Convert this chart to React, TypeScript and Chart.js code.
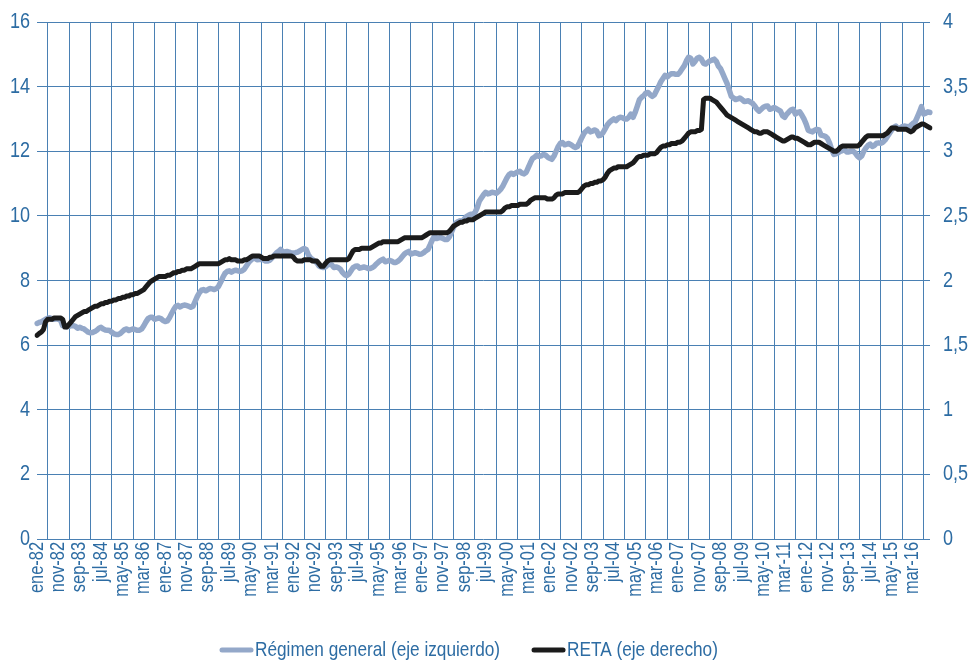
import React, { useEffect, useRef } from "react";
import { Chart, registerables } from "chart.js";

Chart.register(...registerables);

const monthNames = ["ene", "feb", "mar", "abr", "may", "jun", "jul", "ago", "sep", "oct", "nov", "dic"];
const firstYear = 1982;
const monthCount = 419; // ene-82 .. nov-16

// Régimen general (millones, eje izquierdo)
const regimenGeneral = [
  6.67, 6.70, 6.72, 6.76, 6.80, 6.83, 6.85, 6.80, 6.80, 6.82, 6.80, 6.78,
  6.60, 6.58, 6.57, 6.58, 6.60, 6.60, 6.58, 6.52, 6.55, 6.52, 6.50, 6.45,
  6.40, 6.38, 6.39, 6.42, 6.46, 6.52, 6.55, 6.50, 6.47, 6.46, 6.45, 6.40,
  6.35, 6.33, 6.33, 6.36, 6.42, 6.48, 6.50, 6.45, 6.48, 6.50, 6.48, 6.46,
  6.46, 6.50, 6.60, 6.72, 6.82, 6.86, 6.86, 6.80, 6.82, 6.84, 6.82, 6.76,
  6.73, 6.75, 6.85, 6.98, 7.10, 7.20, 7.23, 7.18, 7.22, 7.24, 7.23, 7.20,
  7.17, 7.20, 7.35, 7.50, 7.62, 7.70, 7.72, 7.68, 7.72, 7.75, 7.74, 7.72,
  7.75, 7.82, 7.95, 8.10, 8.22, 8.28, 8.30, 8.26, 8.30, 8.32, 8.30, 8.28,
  8.30, 8.35, 8.45, 8.55, 8.62, 8.68, 8.70, 8.64, 8.65, 8.66, 8.64, 8.60,
  8.60, 8.63, 8.70, 8.78, 8.85, 8.90, 8.96, 8.90, 8.88, 8.90, 8.88, 8.85,
  8.85, 8.86, 8.88, 8.92, 8.96, 8.99, 8.96, 8.80, 8.70, 8.65, 8.60, 8.55,
  8.45, 8.42, 8.40, 8.42, 8.48, 8.50, 8.48, 8.40, 8.42, 8.40, 8.35, 8.25,
  8.18, 8.15, 8.20, 8.30, 8.40, 8.44, 8.45, 8.38, 8.40, 8.42, 8.40, 8.37,
  8.37, 8.40, 8.45, 8.52, 8.58, 8.63, 8.66, 8.58, 8.60, 8.62, 8.60, 8.56,
  8.56, 8.60, 8.66, 8.74, 8.82, 8.87, 8.90, 8.82, 8.84, 8.86, 8.84, 8.81,
  8.82, 8.86, 8.92, 8.96, 9.10, 9.25, 9.37, 9.30, 9.32, 9.33, 9.30, 9.27,
  9.27, 9.35, 9.50, 9.65, 9.78, 9.82, 9.85, 9.82, 9.90, 9.98, 10.02, 10.05,
  10.05, 10.10, 10.25, 10.45, 10.55, 10.65, 10.73, 10.68, 10.70, 10.73, 10.72, 10.70,
  10.75, 10.82, 10.92, 11.05, 11.18, 11.28, 11.32, 11.28, 11.32, 11.36, 11.38, 11.32,
  11.30, 11.35, 11.50, 11.65, 11.78, 11.82, 11.88, 11.84, 11.86, 11.90, 11.88, 11.82,
  11.78, 11.75, 11.85, 12.00, 12.15, 12.25, 12.27, 12.20, 12.22, 12.24, 12.20, 12.15,
  12.12, 12.15, 12.28, 12.42, 12.55, 12.62, 12.68, 12.60, 12.62, 12.66, 12.62, 12.48,
  12.50, 12.58, 12.70, 12.82, 12.90, 12.95, 13.00, 12.95, 13.02, 13.05, 13.04, 13.00,
  13.00, 13.05, 13.15, 13.05, 13.20, 13.40, 13.60, 13.67, 13.72, 13.80, 13.82, 13.75,
  13.70, 13.75, 13.88, 14.01, 14.15, 14.25, 14.35, 14.30, 14.36, 14.40, 14.40, 14.38,
  14.38, 14.45, 14.55, 14.65, 14.80, 14.91, 14.88, 14.70, 14.78, 14.88, 14.91, 14.85,
  14.72, 14.70, 14.75, 14.80, 14.82, 14.85, 14.78, 14.63, 14.55, 14.40, 14.25, 14.10,
  13.90, 13.70, 13.65, 13.60, 13.62, 13.65, 13.60, 13.54, 13.55, 13.56, 13.52, 13.48,
  13.40, 13.30, 13.24, 13.30, 13.36, 13.39, 13.40, 13.30, 13.32, 13.35, 13.32, 13.28,
  13.24, 13.10, 13.05, 13.15, 13.22, 13.28, 13.30, 13.15, 13.20, 13.22, 13.12, 13.00,
  12.85, 12.65, 12.62, 12.60, 12.65, 12.68, 12.66, 12.50, 12.48, 12.46, 12.40, 12.25,
  12.05, 11.90, 11.92, 11.95, 12.00, 12.02, 12.05, 11.98, 11.98, 12.00, 12.00, 11.95,
  11.85, 11.80, 11.85, 12.00, 12.10, 12.18, 12.22, 12.15, 12.18, 12.25, 12.26, 12.25,
  12.28, 12.35, 12.45, 12.55, 12.65, 12.74, 12.78, 12.70, 12.72, 12.76, 12.78, 12.77,
  12.75, 12.80, 12.86, 12.90, 13.05, 13.20, 13.38, 13.15, 13.18, 13.22, 13.20,
];

// RETA (millones, eje derecho)
const reta = [
  1.575, 1.59, 1.60, 1.62, 1.68, 1.70, 1.70, 1.70, 1.71, 1.71, 1.71, 1.71,
  1.70, 1.64, 1.64, 1.66, 1.68, 1.70, 1.72, 1.73, 1.74, 1.75, 1.76, 1.76,
  1.77, 1.78, 1.79, 1.80, 1.80, 1.81, 1.82, 1.82, 1.83, 1.83, 1.84, 1.84,
  1.85, 1.85, 1.86, 1.86, 1.87, 1.87, 1.88, 1.88, 1.89, 1.89, 1.90, 1.90,
  1.91, 1.92, 1.93, 1.95, 1.97, 1.99, 2.00, 2.01, 2.02, 2.03, 2.03, 2.03,
  2.03, 2.04, 2.04, 2.05, 2.06, 2.06, 2.07, 2.07, 2.08, 2.08, 2.09, 2.09,
  2.09, 2.10, 2.11, 2.12, 2.13, 2.13, 2.13, 2.13, 2.13, 2.13, 2.13, 2.13,
  2.13, 2.13, 2.14, 2.15, 2.16, 2.16, 2.17, 2.16, 2.16, 2.16, 2.15, 2.15,
  2.15, 2.16, 2.16, 2.17, 2.18, 2.19, 2.19, 2.19, 2.19, 2.18, 2.17, 2.17,
  2.17, 2.18, 2.18, 2.19, 2.19, 2.19, 2.19, 2.19, 2.19, 2.19, 2.19, 2.19,
  2.18, 2.16, 2.15, 2.15, 2.15, 2.16, 2.16, 2.16, 2.16, 2.15, 2.15, 2.15,
  2.13, 2.11, 2.11, 2.13, 2.15, 2.16, 2.16, 2.16, 2.16, 2.16, 2.16, 2.16,
  2.16, 2.16, 2.17, 2.20, 2.23, 2.24, 2.24, 2.24, 2.25, 2.25, 2.25, 2.25,
  2.25, 2.26, 2.27, 2.28, 2.29, 2.29, 2.30, 2.30, 2.30, 2.30, 2.30, 2.30,
  2.30, 2.30, 2.31, 2.32, 2.33, 2.33, 2.33, 2.33, 2.33, 2.33, 2.33, 2.33,
  2.33, 2.34, 2.35, 2.36, 2.37, 2.37, 2.37, 2.37, 2.37, 2.37, 2.37, 2.37,
  2.37, 2.38, 2.40, 2.42, 2.43, 2.44, 2.45, 2.45, 2.46, 2.46, 2.47, 2.47,
  2.47, 2.48, 2.49, 2.50, 2.51, 2.52, 2.53, 2.53, 2.53, 2.53, 2.53, 2.53,
  2.53, 2.53, 2.54, 2.56, 2.57, 2.57, 2.58, 2.58, 2.58, 2.58, 2.59, 2.59,
  2.59, 2.59, 2.60, 2.62, 2.63, 2.64, 2.64, 2.64, 2.64, 2.64, 2.64, 2.63,
  2.63, 2.63, 2.64, 2.66, 2.67, 2.67, 2.67, 2.68, 2.68, 2.68, 2.68, 2.68,
  2.68, 2.68, 2.69, 2.71, 2.73, 2.74, 2.74, 2.75, 2.75, 2.76, 2.76, 2.77,
  2.77, 2.78, 2.80, 2.83, 2.85, 2.86, 2.87, 2.87, 2.88, 2.88, 2.88, 2.88,
  2.88, 2.89, 2.90, 2.91, 2.93, 2.95, 2.96, 2.96, 2.97, 2.97, 2.97, 2.98,
  2.98, 2.98, 2.99, 3.01, 3.03, 3.04, 3.04, 3.05, 3.05, 3.06, 3.06, 3.06,
  3.07, 3.07, 3.08, 3.10, 3.12, 3.14, 3.15, 3.15, 3.15, 3.16, 3.16, 3.17,
  3.40, 3.41, 3.41, 3.41, 3.40, 3.39, 3.38, 3.36, 3.34, 3.32, 3.30, 3.28,
  3.27, 3.26, 3.25, 3.24, 3.23, 3.22, 3.21, 3.20, 3.19, 3.18, 3.17, 3.16,
  3.15, 3.15, 3.14, 3.14, 3.15, 3.15, 3.15, 3.14, 3.13, 3.12, 3.11, 3.10,
  3.09, 3.08, 3.08, 3.09, 3.10, 3.11, 3.11, 3.10, 3.10, 3.09, 3.08, 3.07,
  3.06, 3.05, 3.05, 3.06, 3.07, 3.07, 3.07, 3.06, 3.05, 3.04, 3.03, 3.02,
  3.01, 3.00, 3.00, 3.01, 3.03, 3.04, 3.04, 3.04, 3.04, 3.04, 3.04, 3.04,
  3.04, 3.05, 3.07, 3.09, 3.11, 3.12, 3.12, 3.12, 3.12, 3.12, 3.12, 3.12,
  3.12, 3.13, 3.14, 3.16, 3.18, 3.18, 3.18, 3.17, 3.17, 3.17, 3.17, 3.17,
  3.16, 3.15, 3.16, 3.18, 3.19, 3.20, 3.21, 3.21, 3.20, 3.19, 3.18,
];

const leftTicks = [0, 2, 4, 6, 8, 10, 12, 14, 16];
const rightTicks = [0, 0.5, 1, 1.5, 2, 2.5, 3, 3.5, 4];
const seriesNames = ["Régimen general (eje izquierdo)", "RETA (eje derecho)"];

const labels: string[] = [];
for (let i = 0; i < monthCount; i++) {
  const y = firstYear + Math.floor(i / 12);
  labels.push(monthNames[i % 12] + "-" + String(y % 100).padStart(2, "0"));
}

const FONT = "'Liberation Sans', Arial, sans-serif";
const NARROW = 0.82;
const TEXT = "#2d6ca3";
const GRID = "#4a80b3";
const GRAY = "#94a8c9";
const BLACK = "#1b1b1b";
const CLEAR = "rgba(0,0,0,0)";

// draws the tick labels and legend in a condensed face (horizontally squeezed text)
const narrowText = {
  id: "narrowText",
  afterDraw(chart: any) {
    const ctx = chart.ctx as CanvasRenderingContext2D;
    const area = chart.chartArea;
    const xs = chart.scales.x;
    const yl = chart.scales.y;
    const yr = chart.scales.y1;
    ctx.save();
    ctx.fillStyle = TEXT;

    // x labels, rotated
    ctx.font = `20px ${FONT}`;
    ctx.textAlign = "right";
    ctx.textBaseline = "middle";
    for (let i = 0; i < labels.length; i += 10) {
      const x = xs.getPixelForValue(i);
      ctx.save();
      ctx.translate(x, area.bottom + 3);
      ctx.rotate(-Math.PI / 2);
      ctx.scale(NARROW, 1);
      ctx.fillText(labels[i], 0, 0);
      ctx.restore();
    }

    // y labels
    ctx.font = `22px ${FONT}`;
    ctx.textBaseline = "middle";
    ctx.textAlign = "right";
    leftTicks.forEach((v) => {
      ctx.save();
      ctx.translate(area.left - 7, yl.getPixelForValue(v));
      ctx.scale(NARROW, 1);
      ctx.fillText(String(v), 0, 0);
      ctx.restore();
    });
    ctx.textAlign = "left";
    rightTicks.forEach((v) => {
      ctx.save();
      ctx.translate(area.right + 13, yr.getPixelForValue(v));
      ctx.scale(NARROW, 1);
      ctx.fillText(String(v).replace(".", ","), 0, 0);
      ctx.restore();
    });

    // legend
    const ly = 650;
    ctx.font = `21px ${FONT}`;
    ctx.textAlign = "left";
    ctx.lineCap = "round";
    ctx.lineWidth = 5;
    let lx = 222;
    const items = [
      { name: seriesNames[0], color: GRAY },
      { name: seriesNames[1], color: BLACK },
    ];
    items.forEach((it) => {
      ctx.strokeStyle = it.color;
      ctx.beginPath();
      ctx.moveTo(lx, ly);
      ctx.lineTo(lx + 29, ly);
      ctx.stroke();
      const tx = lx + 33;
      ctx.save();
      ctx.translate(tx, ly);
      ctx.scale(NARROW, 1);
      ctx.fillText(it.name, 0, 0);
      const w = ctx.measureText(it.name).width * NARROW;
      ctx.restore();
      lx = tx + w + 34;
    });
    ctx.restore();
  },
};

export default function App() {
  const ref = useRef<HTMLCanvasElement>(null);

  useEffect(() => {
    if (!ref.current) return;
    const chart = new Chart(ref.current, {
      type: "line",
      data: {
        labels,
        datasets: [
          {
            label: seriesNames[1],
            data: reta,
            yAxisID: "y1",
            borderColor: BLACK,
            backgroundColor: BLACK,
            borderWidth: 5,
            pointRadius: 0,
            tension: 0,
            borderJoinStyle: "round",
            borderCapStyle: "round",
            order: 1,
          },
          {
            label: seriesNames[0],
            data: regimenGeneral,
            yAxisID: "y",
            borderColor: GRAY,
            backgroundColor: GRAY,
            borderWidth: 5.5,
            pointRadius: 0,
            tension: 0,
            borderJoinStyle: "round",
            borderCapStyle: "round",
            order: 2,
          },
        ],
      },
      options: {
        animation: false,
        responsive: false,
        maintainAspectRatio: false,
        layout: { padding: { top: 22, left: 0, right: 0, bottom: 0 } },
        plugins: { legend: { display: false }, tooltip: { enabled: false } },
        scales: {
          x: {
            type: "category",
            offset: false,
            border: { display: false },
            grid: {
              drawTicks: false,
              tickLength: 0,
              lineWidth: 1,
              color: (ctx: any) => (ctx.index % 10 === 5 ? GRID : CLEAR),
            },
            ticks: {
              autoSkip: false,
              minRotation: 90,
              maxRotation: 90,
              padding: 3,
              color: CLEAR,
              font: { size: 10 },
              callback: (_v: any, i: number) => (i % 10 === 0 ? labels[i] : ""),
            },
            afterFit: (s: any) => {
              s.height = 121;
            },
          },
          y: {
            position: "left",
            min: 0,
            max: 16,
            border: { display: false },
            grid: { color: GRID, lineWidth: 1, drawTicks: false, tickLength: 0 },
            afterBuildTicks: (s: any) => {
              s.ticks = leftTicks.map((v) => ({ value: v }));
            },
            ticks: { color: CLEAR, font: { size: 10 } },
            afterFit: (s: any) => {
              s.width = 37;
            },
          },
          y1: {
            position: "right",
            min: 0,
            max: 4,
            border: { display: false },
            grid: { drawOnChartArea: false, drawTicks: false, tickLength: 0 },
            afterBuildTicks: (s: any) => {
              s.ticks = rightTicks.map((v) => ({ value: v }));
            },
            ticks: { color: CLEAR, font: { size: 10 } },
            afterFit: (s: any) => {
              s.width = 39;
            },
          },
        },
      },
      plugins: [narrowText],
    });
    return () => chart.destroy();
  }, []);

  return (
    <div style={{ position: "fixed", left: 0, top: 0, width: 969, height: 660, background: "#fff" }}>
      <canvas ref={ref} width={969} height={660} style={{ display: "block" }} />
    </div>
  );
}
